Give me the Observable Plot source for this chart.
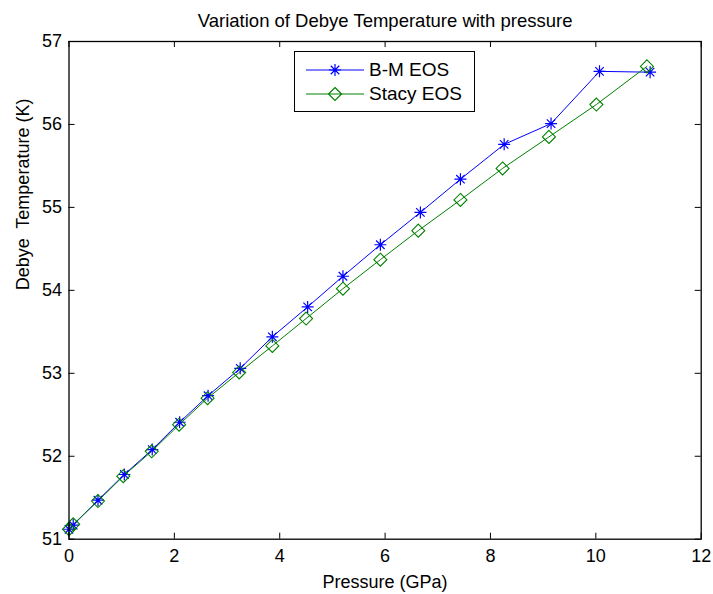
<!DOCTYPE html>
<html>
<head>
<meta charset="utf-8">
<script src="https://cdn.jsdelivr.net/npm/d3@7"></script>
<script src="https://cdn.jsdelivr.net/npm/@observablehq/plot@0.6"></script>
<style>
  html, body { margin: 0; padding: 0; background: #fff; }
  #wrap { position: relative; width: 713px; height: 594px; font-family: "Liberation Sans", Arial, sans-serif; }
  #legend { position: absolute; left: 294px; top: 51px; width: 181px; height: 61px; border: 1px solid #000; background: #fff; box-sizing: border-box; }
  .row { position: absolute; left: 0; height: 24px; display: flex; align-items: center; font-size: 19px; color: #000; }
  .row svg { display: block; margin-left: 11px; margin-right: 5px; }
</style>
</head>
<body>
<div id="wrap"></div>
<script>
const title = "Variation of Debye Temperature with pressure";
const xLabel = "Pressure (GPa)";
const yLabel = "Debye\u00a0 Temperature (K)";
const seriesNames = ["B-M EOS", "Stacy EOS"];
const seriesColors = ["#0000ff", "#008000"];

const bmPressure = [0, 0.08, 0.55, 1.05, 1.58, 2.10, 2.64, 3.25, 3.86, 4.53, 5.20, 5.91, 6.67, 7.43, 8.26, 9.15, 10.07, 11.03];
const bmTheta    = [51.12, 51.17, 51.47, 51.78, 52.08, 52.41, 52.73, 53.06, 53.44, 53.80, 54.17, 54.55, 54.94, 55.34, 55.76, 56.01, 56.64, 56.63];
const stPressure = [0, 0.08, 0.55, 1.03, 1.57, 2.09, 2.63, 3.23, 3.86, 4.50, 5.20, 5.91, 6.63, 7.43, 8.23, 9.11, 10.01, 10.97];
const stTheta    = [51.12, 51.18, 51.46, 51.76, 52.06, 52.38, 52.70, 53.01, 53.33, 53.66, 54.02, 54.37, 54.72, 55.09, 55.47, 55.85, 56.24, 56.70];

const xTicks = [0, 2, 4, 6, 8, 10, 12];
const yTicks = [51, 52, 53, 54, 55, 56, 57];

const bm = bmPressure.map((p, i) => ({p, t: bmTheta[i]}));
const st = stPressure.map((p, i) => ({p, t: stTheta[i]}));

// MATLAB-like markers
const starSymbol = {
  draw(ctx, size) {
    const r = Math.sqrt(size / Math.PI);
    const d = r * Math.SQRT1_2;
    ctx.moveTo(-r, 0); ctx.lineTo(r, 0);
    ctx.moveTo(0, -r); ctx.lineTo(0, r);
    ctx.moveTo(-d, -d); ctx.lineTo(d, d);
    ctx.moveTo(-d, d); ctx.lineTo(d, -d);
  }
};
const diamondSymbol = {
  draw(ctx, size) {
    const r = Math.sqrt(size / Math.PI);
    ctx.moveTo(0, -r); ctx.lineTo(r, 0); ctx.lineTo(0, r); ctx.lineTo(-r, 0); ctx.closePath();
  }
};

const W = 713, H = 594;
const mL = 68.5, mR = 12.3, mT = 41, mB = 55.3;
const plotW = W - mL - mR, plotH = H - mT - mB;
const tl = 6;

const chart = Plot.plot({
  width: W, height: H,
  marginLeft: mL, marginRight: mR, marginTop: mT, marginBottom: mB,
  style: {fontFamily: "Liberation Sans, Arial, sans-serif", fontSize: "18px", background: "#fff", color: "#000"},
  x: {domain: [0, 12], ticks: xTicks},
  y: {domain: [51, 57], ticks: yTicks},
  marks: [
    Plot.line(bm, {x: "p", y: "t", stroke: seriesColors[0], strokeWidth: 1}),
    Plot.line(st, {x: "p", y: "t", stroke: seriesColors[1], strokeWidth: 1}),
    Plot.dot(bm, {x: "p", y: "t", symbol: starSymbol, r: 6, stroke: seriesColors[0], strokeWidth: 1.2, fill: "none"}),
    Plot.dot(st, {x: "p", y: "t", symbol: diamondSymbol, r: 6.5, stroke: seriesColors[1], strokeWidth: 1.1, fill: "none"}),
    Plot.frame({stroke: "#000", strokeWidth: 1.3}),
    Plot.tickX(xTicks, {x: d => d, insetTop: plotH - tl, stroke: "#000"}),
    Plot.tickX(xTicks, {x: d => d, insetBottom: plotH - tl, stroke: "#000"}),
    Plot.tickY(yTicks, {y: d => d, insetRight: plotW - tl, stroke: "#000"}),
    Plot.tickY(yTicks, {y: d => d, insetLeft: plotW - tl, stroke: "#000"}),
    Plot.axisX({ticks: xTicks, tickFormat: d3.format("d"), tickSize: 0, tickPadding: 10, label: null, fontSize: 18}),
    Plot.axisY({ticks: yTicks, tickFormat: d3.format("d"), tickSize: 0, tickPadding: 7, label: null, fontSize: 18}),
    Plot.text([title], {text: d => d, frameAnchor: "top", dy: -20, lineAnchor: "middle", fontSize: 18.5}),
    Plot.text([xLabel], {text: d => d, frameAnchor: "bottom", dy: 43, lineAnchor: "middle", fontSize: 18}),
    Plot.text([yLabel], {text: d => d, frameAnchor: "left", dx: -46, rotate: -90, lineAnchor: "middle", fontSize: 18})
  ]
});

const wrap = document.getElementById("wrap");
wrap.appendChild(chart);

// legend
const legend = document.createElement("div");
legend.id = "legend";
const markers = [starSymbol, diamondSymbol];
seriesNames.forEach((name, i) => {
  const row = document.createElement("div");
  row.className = "row";
  row.style.top = (i === 0 ? 6 : 30) + "px";
  const svg = d3.create("svg").attr("width", 58).attr("height", 24);
  svg.append("line").attr("x1", 0).attr("x2", 58).attr("y1", 12).attr("y2", 12)
    .attr("stroke", seriesColors[i]).attr("stroke-width", 1);
  const r = i === 0 ? 6 : 6.5;
  const path = d3.path();
  markers[i].draw(path, Math.PI * r * r);
  svg.append("path").attr("d", path.toString()).attr("transform", "translate(29,12)")
    .attr("stroke", seriesColors[i]).attr("fill", "none").attr("stroke-width", 1.2);
  row.appendChild(svg.node());
  const span = document.createElement("span");
  span.textContent = name;
  row.appendChild(span);
  legend.appendChild(row);
});
wrap.appendChild(legend);
</script>
</body>
</html>
